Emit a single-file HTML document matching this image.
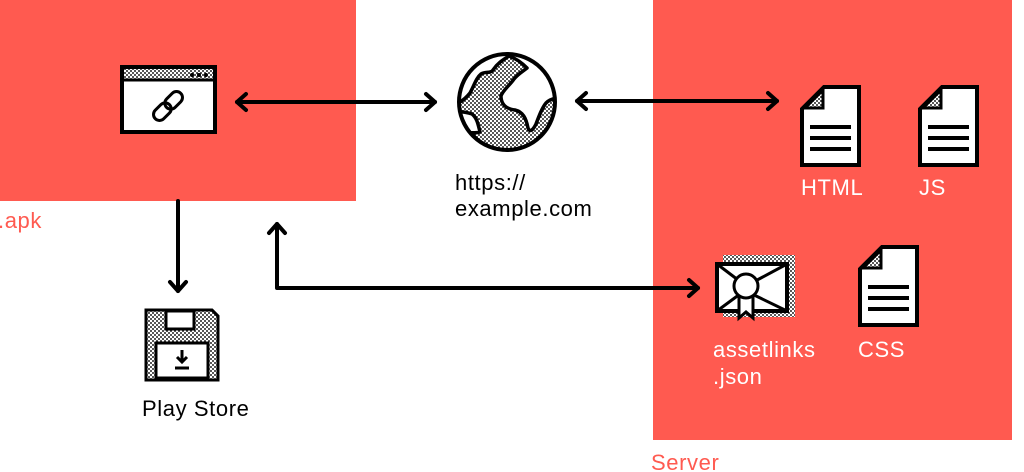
<!DOCTYPE html>
<html><head><meta charset="utf-8"><style>
html,body{margin:0;padding:0;background:#fff;}
svg{display:block;}
text{font-family:"Liberation Sans",sans-serif;font-size:22px;letter-spacing:0.6px;}
</style></head><body>
<svg width="1024" height="472" viewBox="0 0 1024 472" xmlns="http://www.w3.org/2000/svg">
<defs>
<pattern id="dots" width="4" height="4" patternUnits="userSpaceOnUse">
<rect width="4" height="4" fill="#fff"/>
<circle cx="1" cy="1" r="1" fill="#222"/><circle cx="3" cy="3" r="1" fill="#222"/>
</pattern>
<clipPath id="gc"><circle cx="507" cy="102" r="48"/></clipPath>
</defs>
<rect x="0" y="0" width="356" height="201" fill="#ff5a50"/>
<rect x="653" y="0" width="359" height="440" fill="#ff5a50"/>
<text x="-2" y="228" fill="#ff5a50">.apk</text>
<text x="651" y="470" fill="#ff5a50">Server</text>

<!-- browser window -->
<rect x="122" y="67" width="93" height="65" fill="#fff" stroke="#000" stroke-width="4"/>
<rect x="124" y="69" width="89" height="10" fill="url(#dots)"/>
<line x1="122" y1="80" x2="215" y2="80" stroke="#000" stroke-width="3"/>
<circle cx="192" cy="75" r="2" fill="#000"/><circle cx="199" cy="75" r="2" fill="#000"/><circle cx="206" cy="75" r="2" fill="#000"/>
<g transform="rotate(-45 168 106)" fill="none" stroke="#000" stroke-width="3">
<rect x="150" y="100" width="20" height="12" rx="6"/>
<rect x="166" y="100" width="20" height="12" rx="6"/>
</g>

<!-- globe -->
<circle cx="507" cy="102" r="48" fill="url(#dots)"/>
<g clip-path="url(#gc)" stroke="#000" stroke-width="3.5" fill="#fff" stroke-linejoin="round">
<path d="M450 50 L450 106 C460 104 466 98 470 93 C474 86 476 78 481 74 C486 71 490 74 493 70 C497 64 502 60 511 55 L511 50 Z"/>
<path d="M511 57 C517 59 522 63 527 68 C522 72 518 74 514 79 C510 85 503 90 501 96 C501 104 506 109 515 110 C523 112 526 118 528 128 C530 133 533 130 536 124 C539 116 542 108 546 103 C550 99 555 98 560 98 L560 50 L511 50 Z"/>
<path d="M450 112 C458 111 466 112 472 114 C477 118 478 124 480 132 C474 134 466 132 450 132 Z"/>
</g>
<circle cx="507" cy="102" r="48" fill="none" stroke="#000" stroke-width="4"/>
<text x="455" y="190" fill="#000">https://</text>
<text x="455" y="216" fill="#000">example.com</text>

<!-- arrows -->
<g stroke="#000" stroke-width="4" fill="none" stroke-linecap="round" stroke-linejoin="round">
<line x1="237" y1="102" x2="435" y2="102"/>
<polyline points="246,94 237,102 246,110"/><polyline points="426,94 435,102 426,110"/>
<line x1="577" y1="101" x2="777" y2="101"/>
<polyline points="586,93 577,101 586,109"/><polyline points="768,93 777,101 768,109"/>
<line x1="178" y1="201" x2="178" y2="291"/>
<polyline points="170,282 178,291 186,282"/>
<polyline points="277,224 277,288 698,288"/>
<polyline points="269,233 277,224 285,233"/><polyline points="689,280 698,288 689,296"/>
</g>

<!-- docs -->
<g id="doc">
<path d="M824 87 L859 87 L859 165 L802 165 L802 109 Z" fill="#fff" stroke="#000" stroke-width="4" stroke-linejoin="miter"/>
<path d="M805 108 L823 90 L823 108 Z" fill="url(#dots)" stroke="#000" stroke-width="3"/>
<g stroke="#000" stroke-width="4"><line x1="810" y1="127" x2="851" y2="127"/><line x1="810" y1="138" x2="851" y2="138"/><line x1="810" y1="149" x2="851" y2="149"/></g>
</g>
<use href="#doc" transform="translate(118,0)"/>
<use href="#doc" transform="translate(58,160)"/>
<text x="801" y="195" fill="#fff">HTML</text>
<text x="919" y="195" fill="#fff">JS</text>
<text x="858" y="357" fill="#fff">CSS</text>

<!-- envelope -->
<rect x="723" y="255" width="72" height="62" fill="url(#dots)"/>
<rect x="717" y="264" width="70" height="47" fill="#fff" stroke="#000" stroke-width="4"/>
<g stroke="#000" stroke-width="3"><line x1="717" y1="264" x2="746" y2="286"/><line x1="787" y1="264" x2="746" y2="286"/><line x1="717" y1="311" x2="740" y2="294"/><line x1="787" y1="311" x2="752" y2="294"/></g>
<path d="M739 296 L739 318 L746 312 L753 318 L753 296 Z" fill="#fff" stroke="#000" stroke-width="3"/>
<circle cx="746" cy="286" r="12" fill="#fff" stroke="#000" stroke-width="3"/>
<text x="713" y="357" fill="#fff">assetlinks</text>
<text x="713" y="384" fill="#fff">.json</text>

<!-- floppy -->
<path d="M146 310 L212 310 L218 316 L218 380 L146 380 Z" fill="url(#dots)" stroke="#000" stroke-width="3"/>
<rect x="166" y="311" width="28" height="18" fill="#fff" stroke="#000" stroke-width="3"/>
<rect x="156" y="343" width="52" height="35" fill="#fff" stroke="#000" stroke-width="3"/>
<g stroke="#000" stroke-width="3" fill="none"><line x1="182" y1="350" x2="182" y2="362"/><polyline points="177,357 182,362 187,357"/><line x1="175" y1="368" x2="189" y2="368"/></g>
<text x="142" y="416" fill="#000">Play Store</text>
</svg>
</body></html>
